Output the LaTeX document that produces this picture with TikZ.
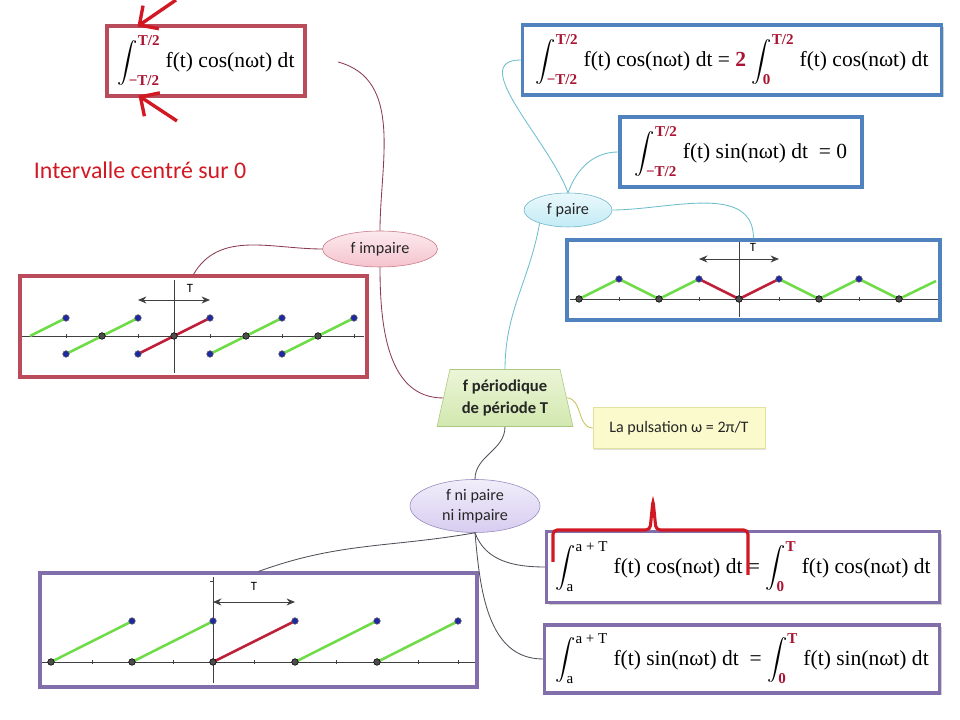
\documentclass[tikz,border=0pt]{standalone}
\usepackage{amsmath}
\usepackage{fontspec}
\setmainfont{Carlito}
\newfontfamily\frm{Liberation Serif}
\usetikzlibrary{arrows.meta, positioning, shapes.geometric, shadows, calc}
\usepackage{xcolor}
\definecolor{bordeaux}{RGB}{185,75,90}
\definecolor{bleubord}{RGB}{80,130,190}
\definecolor{mviolet}{RGB}{130,110,170}
\definecolor{rougeborne}{RGB}{170,20,50}
\definecolor{rougevif}{RGB}{210,25,35}
\definecolor{vertseg}{RGB}{110,220,70}
\definecolor{rougeseg}{RGB}{190,30,55}
\definecolor{bleupt}{RGB}{30,40,160}
\definecolor{lienbord}{RGB}{140,60,80}
\definecolor{lienbleu}{RGB}{110,190,205}
\definecolor{liengris}{RGB}{80,80,90}
\definecolor{lienjaune}{RGB}{200,195,90}
\definecolor{roseb}{RGB}{200,120,135}
\definecolor{rosef}{RGB}{245,195,205}
\definecolor{cyanb}{RGB}{110,180,200}
\definecolor{cyanf}{RGB}{195,235,245}
\definecolor{lavb}{RGB}{150,135,190}
\definecolor{lavf}{RGB}{215,205,240}
\definecolor{vertb}{RGB}{170,200,130}
\definecolor{verth}{RGB}{235,245,215}
\definecolor{vertf}{RGB}{210,232,175}
\definecolor{jauneb}{RGB}{225,225,160}
\definecolor{jaunef}{RGB}{250,250,205}
\newlength\px \setlength\px{0.025cm}
\newcommand\borne[1]{\text{\bfseries\color{rougeborne}#1}}
\newcommand\integ[2]{$\displaystyle\int_{#1}^{#2}$}

\begin{document}
\begin{tikzpicture}[x=0.025cm, y=0.025cm,
  formule/.style={draw=#1, line width=2.2pt, fill=white, inner sep=3pt,
                  font=\frm\fontsize{15.3}{18}\selectfont,
                  drop shadow={shadow xshift=1.5pt, shadow yshift=-1.5pt, opacity=.35}},
  graphe/.style={draw=#1, line width=2.2pt, fill=white,
                 drop shadow={shadow xshift=1.5pt, shadow yshift=-1.5pt, opacity=.35}},
  bulle/.style 2 args={ellipse, draw=#1, top color=#2!35!white, bottom color=#2,
                       inner sep=1pt, align=center, text=black!85,
                       font=\fontsize{11.5}{14}\selectfont},
  lien/.style={draw=#1, line width=0.6pt},
  axe/.style={black!75, line width=0.6pt},
  fl/.style={{Stealth[length=6pt,width=5pt]}-{Stealth[length=6pt,width=5pt]}},
  vert/.style={vertseg, line width=1.8pt},
  seg/.style={rougeseg, line width=1.8pt},
  ptb/.style={fill=bleupt, draw=black!60, line width=0.4pt},
  ptn/.style={fill=black!70, draw=black, line width=0.4pt},
  lettre/.style={font=\fontsize{9}{10}\selectfont},
  fleche/.style={-{Straight Barb[length=3.5mm,width=7mm]}, rougevif, line width=2.4pt}
]
\fill[white] (0,0) rectangle (960,720);
\useasboundingbox (0,0) rectangle (960,720);

% boites
\node[formule=bordeaux, minimum width=198\px, minimum height=70\px] (tl) at (206,659)
  {\integ{\borne{−T/2}}{\borne{T/2}} f(t) cos(nωt) dt};
\node[formule=bleubord, minimum width=419\px, minimum height=70\px] (tr1) at (732,660)
  {\integ{\borne{−T/2}}{\borne{T/2}} f(t) cos(nωt) dt = \textbf{\color{rougeborne}2} \integ{\borne{0}}{\borne{T/2}} f(t) cos(nωt) dt};
\node[formule=bleubord, minimum width=242\px, minimum height=70\px] (tr2) at (741,568)
  {\integ{\borne{−T/2}}{\borne{T/2}} f(t) sin(nωt) dt ~= 0};
\node[formule=mviolet, minimum width=393\px, minimum height=71\px] (b3) at (743,153)
  {\integ{\text{a}}{\text{a + T}} f(t) cos(nωt) dt = \integ{\borne{0}}{\borne{T}} f(t) cos(nωt) dt};
\node[formule=mviolet, minimum width=395\px, minimum height=68\px] (b4) at (742,61)
  {\integ{\text{a}}{\text{a + T}} f(t) sin(nωt) dt ~= \integ{\borne{0}}{\borne{T}} f(t) sin(nωt) dt};

\node[graphe=bordeaux, minimum width=347\px, minimum height=101\px] (gimp) at (193.5,393.5) {};
\node[graphe=bleubord, minimum width=373\px, minimum height=80\px] (gpair) at (753.5,440) {};
\node[graphe=mviolet, minimum width=437\px, minimum height=114\px] (gni) at (258.5,90) {};

\node[trapezium, trapezium left angle=76, trapezium right angle=76, trapezium stretches=true,
      minimum width=136\px, minimum height=57\px, draw=vertb,
      top color=verth, bottom color=vertf,
      align=center, font=\bfseries\fontsize{11.8}{15}\selectfont, text=black!85] (centre) at (505,322)
  {f périodique\\de période T};
\node[draw=jauneb, fill=jaunef, text=black!85,
      minimum width=172\px, minimum height=41\px, font=\fontsize{11.4}{13}\selectfont,
      drop shadow={shadow xshift=1pt, shadow yshift=-1pt, opacity=.25}] (puls) at (679,292)
  {La pulsation ω = 2π/T};
\node[bulle={roseb}{rosef}, minimum width=115\px, minimum height=36\px] (imp) at (380,471) {f impaire};
\node[bulle={cyanb}{cyanf}, minimum width=88\px, minimum height=34\px] (paire) at (568,510) {f paire};
\node[bulle={lavb}{lavf}, minimum width=130\px, minimum height=53\px] (nip) at (475,214) {f ni paire\\ni impaire};

\node[anchor=west, text=rougevif, font=\fontsize{17}{20}\selectfont] (interv) at (29,550)
  {Intervalle centré sur 0};

% liens
\coordinate (bout1) at (338,658);
\draw[lien=lienbord] (centre.west) to[out=180,in=-90] (imp.south);
\draw[lien=lienbord] (imp.north) to[out=90,in=-15] (bout1);
\draw[lien=lienbord] (imp.west) to[out=180,in=60] (gimp.north);
\draw[lien=lienbleu] (centre.north) to[out=90,in=-100] (paire.205);
\draw[lien=lienbleu] (paire.north) to[out=110,in=180] (tr1.west);
\draw[lien=lienbleu] (paire.north) to[out=70,in=180] (tr2.west);
\draw[lien=lienbleu] (paire.east) to[out=0,in=90] (gpair.north);
\draw[lien=lienjaune] (centre.east) to[out=0,in=180] (puls.west);
\draw[lien=liengris] (centre.south) to[out=-90,in=90] (nip.north);
\draw[lien=liengris] (nip.south) to[out=190,in=20] (gni.north);
\draw[lien=liengris] (nip.south) to[out=-70,in=180] (b3.west);
\draw[lien=liengris] (nip.south) to[out=-85,in=180] (b4.west);

% fleches rouges
\coordinate (q1) at (176,720);
\coordinate (q2) at (177,599);
\draw[fleche] (q1) -- ([xshift=32\px,yshift=-2\px]tl.north west);
\draw[fleche] (q2) -- ([xshift=33\px,yshift=2\px]tl.south west);
\draw[rougevif, line width=2.2pt, rounded corners=3pt]
  (553,158) -- (553,190) -- (650,190) -- (653,220) -- (656,190) -- (748,190) -- (748,145);

% graphe impaire
\draw[axe] (22,384) -- (364,384);
\draw[axe] (174,347) -- (174,440);
\foreach \x in {66,138,210,282,354} \draw[axe] (\x,382) -- (\x,386);
\draw[axe,fl] (138,420) -- (210,420);
\node[lettre] (timp) at (190,432) {T};
\draw[vert] (30,384) -- (66,402);
\foreach \x in {66,210,282} \draw[vert] (\x,366) -- ++(72,36);
\draw[seg] (138,366) -- (210,402);
\foreach \x in {66,138,210,282,354} \filldraw[ptb] (\x,402) circle[radius=3.3];
\foreach \x in {66,138,210,282} \filldraw[ptb] (\x,366) circle[radius=3.3];
\foreach \x in {102,174,246,318} \filldraw[ptn] (\x,384) circle[radius=3.3];

% graphe paire
\draw[axe] (570,421) -- (938,421);
\draw[axe] (739,403) -- (739,478);
\foreach \x in {619,699,779,859} \draw[axe] (\x,419) -- (\x,423);
\draw[axe,fl] (699,461) -- (779,461);
\node[lettre] (tpair) at (753,473) {T};
\draw[vert] (579,421) -- (619,441) -- (659,421) -- (699,441);
\draw[seg] (699,441) -- (739,421) -- (779,441);
\draw[vert] (779,441) -- (819,421) -- (859,441) -- (899,421) -- (936,439);
\foreach \x in {619,699,779,859} \filldraw[ptb] (\x,441) circle[radius=3.3];
\foreach \x in {579,659,739,819,899} \filldraw[ptn] (\x,421) circle[radius=3.3];

% graphe ni paire ni impaire
\draw[axe] (42,58) -- (475,58);
\draw[axe] (213,37) -- (213,143);
\draw[axe] (210,139) -- (213,139);
\foreach \x in {92,173,254,336,418,458} \draw[axe] (\x,56) -- (\x,60);
\draw[axe,fl] (213,118) -- (295,118);
\node[lettre] (tni) at (254,134) {T};
\foreach \x in {51,132,295,377} \draw[vert] (\x,58) -- ++(81.5,41);
\draw[seg] (213,58) -- (295,99);
\foreach \x in {132,213,295,377,458} \filldraw[ptb] (\x,99) circle[radius=3.3];
\foreach \x in {51,132,213,295,377} \filldraw[ptn] (\x,58) circle[radius=3.3];
\end{tikzpicture}
\end{document}
